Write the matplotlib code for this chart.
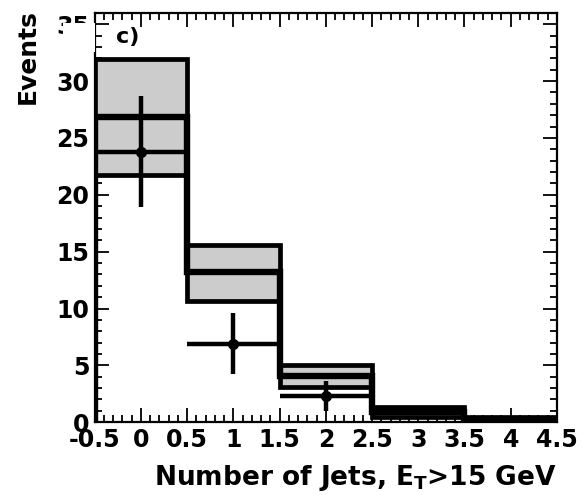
import numpy as np
import matplotlib.pyplot as plt
from matplotlib.patches import Rectangle
from matplotlib.ticker import MultipleLocator, FuncFormatter

plt.rcParams['font.family'] = ['DejaVu Sans']
plt.rcParams['font.weight'] = 'bold'
plt.rcParams['mathtext.default'] = 'bf'

# jet multiplicity bins
bin_edges = [-0.5, 0.5, 1.5, 2.5, 3.5, 4.5]
bin_centers = [0, 1, 2, 3, 4]

# expectation: central value and uncertainty band
pred = [26.8, 13.2, 4.1, 0.9, 0.2]
pred_lo = [21.7, 10.7, 3.1, 0.5, 0.0]
pred_hi = [31.9, 15.6, 5.0, 1.3, 0.5]

# observed events
data_x = [0, 1, 2]
data_y = [23.8, 6.9, 2.3]
data_err = [4.9, 2.7, 1.3]

fig = plt.figure(figsize=(5.85, 4.95), dpi=100)
ax = fig.add_axes([0.162, 0.147, 0.790, 0.827])

# uncertainty boxes
for i in range(len(pred)):
    ax.add_patch(Rectangle((bin_edges[i], pred_lo[i]), bin_edges[i + 1] - bin_edges[i],
                           pred_hi[i] - pred_lo[i], facecolor='#cccccc',
                           edgecolor='black', linewidth=3.4, zorder=2))

# central histogram
ax.stairs(pred, bin_edges, color='black', linewidth=4.6, zorder=3)

# data points
ax.errorbar(data_x, data_y, yerr=data_err, xerr=0.5, fmt='o', color='black',
            markersize=7, elinewidth=3.2, capsize=0, zorder=4)

ax.set_xlim(-0.5, 4.5)
ax.set_ylim(0, 36)

ax.xaxis.set_major_locator(MultipleLocator(0.5))
ax.xaxis.set_minor_locator(MultipleLocator(0.1))
ax.yaxis.set_major_locator(MultipleLocator(5))
ax.yaxis.set_minor_locator(MultipleLocator(1))
ax.xaxis.set_major_formatter(FuncFormatter(lambda v, p: '%g' % v))

ax.tick_params(which='both', direction='in', top=True, right=True, width=1.3)
ax.tick_params(which='major', length=10, labelsize=17, pad=4)
ax.tick_params(which='minor', length=5)
for s in ax.spines.values():
    s.set_linewidth(1.6)

ax.set_xlabel(r'Number of Jets, E$_\mathrm{T}$>15 GeV', fontsize=19,
              fontweight='bold', loc='right')
ax.xaxis.set_label_coords(1.0, -0.10)
ax.set_ylabel('Events', fontsize=18, fontweight='bold', loc='top')
ax.yaxis.set_label_coords(-0.12, 1.01)

ax.text(0.045, 0.965, 'c)', transform=ax.transAxes, fontsize=16,
        fontweight='bold', va='top', ha='left')

# white patch over the corner beside the panel label
fig.patches.append(Rectangle((0.107, 0.895), 0.055, 0.059, transform=fig.transFigure,
                             facecolor='white', edgecolor='none', zorder=5))

fig.savefig('out.png', dpi=100)
